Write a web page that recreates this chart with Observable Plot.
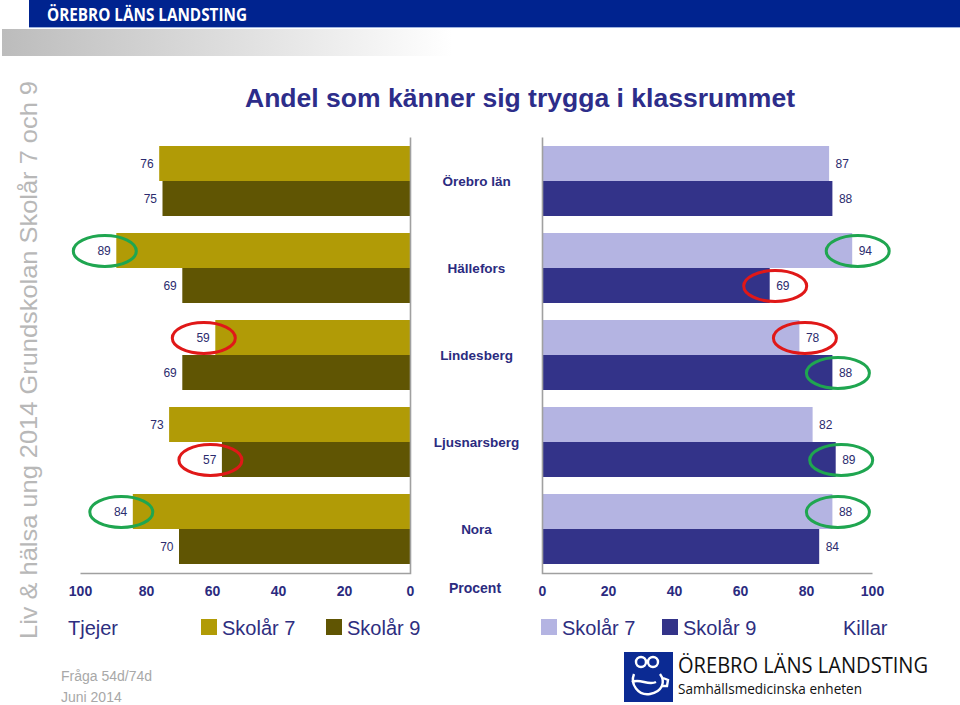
<!DOCTYPE html>
<html>
<head>
<meta charset="utf-8">
<script src="https://cdn.jsdelivr.net/npm/d3@7"></script>
<script src="https://cdn.jsdelivr.net/npm/@observablehq/plot@0.6"></script>
<style>
  html, body { margin: 0; padding: 0; background: #fff; }
  #page { position: relative; width: 960px; height: 705px; overflow: hidden; font-family: "Liberation Sans", Arial, sans-serif; }
  .abs { position: absolute; }
  #page svg { overflow: visible; background: transparent; }
  .leg { position: absolute; font-size: 20px; color: #2e2e80; line-height: 20px; }
  .sw { position: absolute; width: 16px; height: 16px; }
</style>
</head>
<body>
<div id="page">
  <div class="abs" style="left:29px;top:0;width:931px;height:27px;background:#00238f;"></div>
  <div class="abs" style="left:29px;top:27px;width:931px;height:1px;background:#9db2de;"></div>
  <svg class="abs" style="left:0;top:0" width="300" height="28">
    <text x="47" y="21" fill="#fff" font-family="Open Sans" font-weight="700" font-size="17" textLength="200" lengthAdjust="spacingAndGlyphs">ÖREBRO LÄNS LANDSTING</text>
  </svg>
  <div class="abs" style="left:2px;top:29px;width:450px;height:27px;background:linear-gradient(to right,#bcbcbc,#ffffff);"></div>
  <svg class="abs" style="left:0;top:60px" width="56" height="600">
    <text transform="translate(37,300) rotate(-90)" text-anchor="middle" fill="#b8b8b8" font-size="24" font-family="Liberation Sans" textLength="558" lengthAdjust="spacingAndGlyphs">Liv &amp; hälsa ung 2014 Grundskolan Skolår 7 och 9</text>
  </svg>
  <svg class="abs" style="left:200px;top:75px" width="640" height="45">
    <text x="320" y="32" text-anchor="middle" fill="#2d2d8a" font-size="26" font-weight="700" font-family="Liberation Sans" textLength="550" lengthAdjust="spacingAndGlyphs">Andel som känner sig trygga i klassrummet</text>
  </svg>
  <div id="left" class="abs" style="left:40px;top:127px;"></div>
  <div id="right" class="abs" style="left:410px;top:127px;"></div>
  <div class="abs" style="left:430px;top:580px;width:90px;text-align:center;font-size:14px;font-weight:700;color:#2b2b80;">Procent</div>

  <div class="leg" style="left:68px;top:618px;">Tjejer</div>
  <div class="sw" style="left:201px;top:619px;background:#b19b06;"></div>
  <div class="leg" style="left:222px;top:618px;">Skolår 7</div>
  <div class="sw" style="left:326px;top:619px;background:#605503;"></div>
  <div class="leg" style="left:347px;top:618px;">Skolår 9</div>
  <div class="sw" style="left:541px;top:619px;background:#b4b4e2;"></div>
  <div class="leg" style="left:562px;top:618px;">Skolår 7</div>
  <div class="sw" style="left:662px;top:619px;background:#333389;"></div>
  <div class="leg" style="left:683px;top:618px;">Skolår 9</div>
  <div class="leg" style="left:843px;top:618px;">Killar</div>

  <div class="abs" style="left:61px;top:668px;font-size:14px;color:#a8a8a8;">Fråga 54d/74d</div>
  <div class="abs" style="left:61px;top:689px;font-size:14px;color:#a8a8a8;">Juni 2014</div>

  <svg class="abs" style="left:620px;top:648px" width="56" height="57">
    <rect x="4" y="4" width="49" height="50" fill="#0b2a93"/>
    <g fill="none" stroke="#fff" stroke-width="2.4">
      <circle cx="21" cy="14" r="5"/>
      <circle cx="33" cy="14" r="5"/>
      <path d="M14 26 C10 36, 18 48, 30 46 C42 44, 46 34, 40 26"/>
      <path d="M12 34 C20 30, 28 38, 36 34"/>
      <path d="M43 30 l5 2 l-1 6 l-5 0"/>
    </g>
  </svg>
  <svg class="abs" style="left:676px;top:652px" width="260" height="24">
    <text x="2" y="21" fill="#111" font-family="Open Sans" font-size="21" textLength="250" lengthAdjust="spacingAndGlyphs">ÖREBRO LÄNS LANDSTING</text>
  </svg>
  <svg class="abs" style="left:676px;top:679px" width="200" height="20">
    <text x="2" y="15" fill="#111" font-family="Open Sans" font-size="15" textLength="184" lengthAdjust="spacingAndGlyphs">Samhällsmedicinska enheten</text>
  </svg>
</div>
<script>
// ---- data ----
const categories = ["Örebro län", "Hällefors", "Lindesberg", "Ljusnarsberg", "Nora"];
const series = ["Skolår 7", "Skolår 9"];
const tjejerSkolar7 = [76, 89, 59, 73, 84];
const tjejerSkolar9 = [75, 69, 69, 57, 70];
const killarSkolar7 = [87, 94, 78, 82, 88];
const killarSkolar9 = [88, 69, 88, 89, 84];
// markeringar: "bättre" (grön) / "sämre" (röd)
const tjejerMark7 = [null, "bättre", "sämre", null, "bättre"];
const tjejerMark9 = [null, null, null, "sämre", null];
const killarMark7 = [null, "bättre", "sämre", null, "bättre"];
const killarMark9 = [null, "sämre", "bättre", "bättre", null];
const xTicks = [0, 20, 40, 60, 80, 100];

function rows(v7, v9, m7, m9) {
  const out = [];
  categories.forEach((c, i) => {
    out.push({cat: c, series: series[0], value: v7[i], mark: m7[i]});
    out.push({cat: c, series: series[1], value: v9[i], mark: m9[i]});
  });
  return out;
}
const girls = rows(tjejerSkolar7, tjejerSkolar9, tjejerMark7, tjejerMark9);
const boys = rows(killarSkolar7, killarSkolar9, killarMark7, killarMark9);

const ellipse = {
  draw(ctx) {
    const rx = 31.5, ry = 15.5, k = 0.5523, kx = rx * k, ky = ry * k;
    ctx.moveTo(rx, 0);
    ctx.bezierCurveTo(rx, ky, kx, ry, 0, ry);
    ctx.bezierCurveTo(-kx, ry, -rx, ky, -rx, 0);
    ctx.bezierCurveTo(-rx, -ky, -kx, -ry, 0, -ry);
    ctx.bezierCurveTo(kx, -ry, rx, -ky, rx, 0);
    ctx.closePath();
  }
};

const PH = 436, MT = 10, MB = 40, BW = 70;
const navy = "#2b2b80";
const markColor = {"bättre": "#1fa650", "sämre": "#e01818"};

function chart(data, side) {
  const left = side === "left";
  const W = 330;
  const ml = left ? 40 : 132, mr = left ? 10 : 48;
  const colors = left ? ["#b19b06", "#605503"] : ["#b4b4e2", "#333389"];
  const dir = left ? -1 : 1;
  const s7 = data.filter(d => d.series === series[0]);
  const s9 = data.filter(d => d.series === series[1]);
  const marks = [
    Plot.barX(s7, {x: "value", y: "cat", fill: colors[0], insetBottom: BW / 2}),
    Plot.barX(s9, {x: "value", y: "cat", fill: colors[1], insetTop: BW / 2}),
    Plot.frame({stroke: "#a0a0a0", strokeWidth: 1.6,
      strokeDasharray: left ? `0 ${W} ${PH + W} ${PH}` : `0 ${W + PH} ${W + PH}`}),
    Plot.text(s7, {x: "value", y: "cat", text: "value", dy: -BW / 4, dx: 6 * dir,
      textAnchor: left ? "end" : "start", fill: "#2b2b6e", fontSize: 12}),
    Plot.text(s9, {x: "value", y: "cat", text: "value", dy: BW / 4, dx: 6 * dir,
      textAnchor: left ? "end" : "start", fill: "#2b2b6e", fontSize: 12}),
    Plot.dot(s7.filter(d => d.mark), {x: "value", y: "cat", dy: -BW / 4, dx: left ? -12 : 5,
      symbol: ellipse, r: 10, stroke: d => markColor[d.mark], strokeWidth: 3, fill: "none"}),
    Plot.dot(s9.filter(d => d.mark), {x: "value", y: "cat", dy: BW / 4, dx: left ? -12 : 5,
      symbol: ellipse, r: 10, stroke: d => markColor[d.mark], strokeWidth: 3, fill: "none"}),
    Plot.axisX({ticks: xTicks, tickSize: 0, tickPadding: 13, fontSize: 14, fontWeight: "bold", fill: navy, label: null})
  ];
  if (!left) {
    marks.push(Plot.text(categories, {y: d => d, text: d => d, frameAnchor: "left", textAnchor: "middle", dx: -66,
      fontSize: 13.5, fontWeight: "bold", fill: navy}));
  }
  return Plot.plot({
    width: ml + W + mr,
    height: MT + PH + MB,
    marginTop: MT, marginBottom: MB, marginLeft: ml, marginRight: mr,
    style: {fontFamily: "Liberation Sans, Arial, sans-serif", background: "transparent", overflow: "visible"},
    x: {domain: left ? [100, 0] : [0, 100], axis: null},
    y: {domain: categories, paddingInner: 0.197, paddingOuter: 0.0985, axis: null},
    marks
  });
}

document.getElementById("left").appendChild(chart(girls, "left"));
document.getElementById("right").appendChild(chart(boys, "right"));
</script>
</body>
</html>
